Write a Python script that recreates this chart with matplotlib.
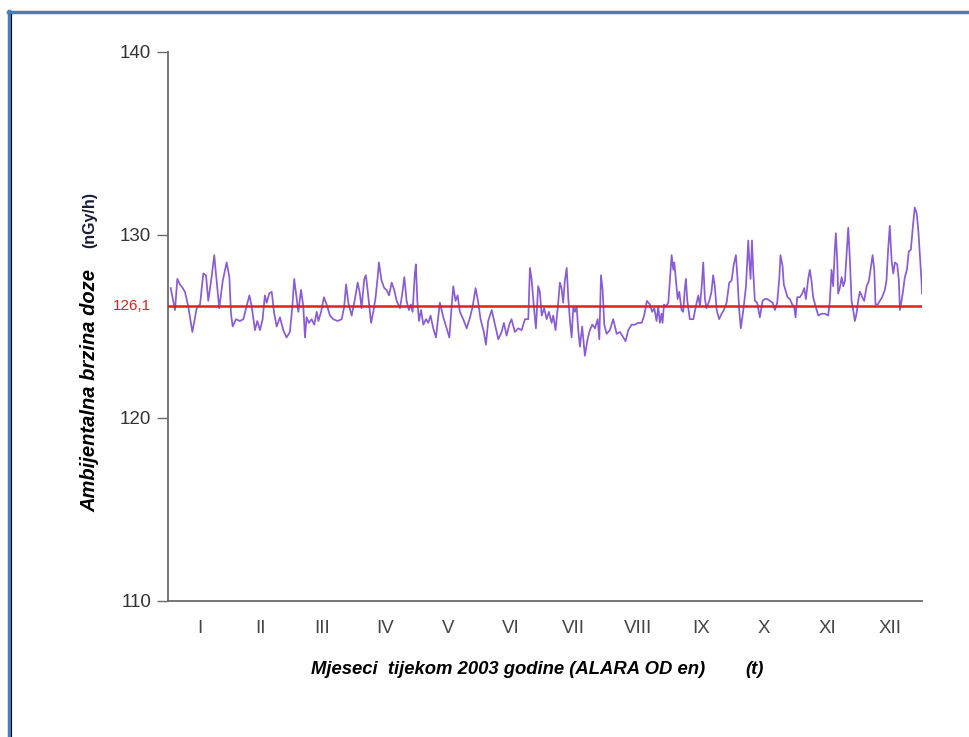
import matplotlib
matplotlib.use("Agg")
import matplotlib.pyplot as plt
from matplotlib.lines import Line2D

# ---- data ----
days = [1.3, 3.4, 4.5, 5.8, 7.1, 8.2, 9.0, 9.8, 11.8, 13.9, 15.5, 17.1, 18.4, 19.5, 21.1, 22.4, 23.2, 24.8,
        26.5, 28.4, 29.7, 30.5, 31.3, 32.9, 34.8, 36.5, 37.8, 39.4, 40.5, 42.1, 43.2, 44.5, 45.8, 46.9, 47.8,
        49.0, 50.2, 51.3, 52.6, 54.2, 55.8, 57.4,
        59.0, 60.2, 61.1, 62.3, 63.1, 64.4, 65.5, 66.3, 67.1, 68.2, 69.5, 70.8, 72.0, 72.8, 74.1, 75.5, 76.8,
        78.4, 80.0, 82.1, 84.1, 85.3, 86.2, 87.3, 88.9, 90.5, 91.8, 92.9, 93.7, 95.0, 95.8, 97.0, 98.3, 99.4,
        100.5, 101.5, 102.1, 103.4, 104.7, 105.8, 107.0, 108.3, 109.5, 110.7, 112.3, 113.4, 114.4, 115.5,
        116.6, 117.6,
        118.4, 119.5, 120.0, 120.7, 121.5, 122.5, 123.6, 124.9, 126.0, 127.1, 128.4, 129.7, 130.8, 131.6,
        133.3, 134.9, 136.2, 137.3, 138.1, 139.2, 140.2, 141.3, 142.9, 144.6, 146.2, 147.5, 148.9, 150.2,
        151.3, 152.9, 153.9, 155.0, 156.7, 158.3, 159.9, 161.5, 162.6, 163.9, 165.2, 166.3, 167.9, 169.6,
        171.2, 172.8, 174.4, 175.2, 176.0, 177.1, 178.1, 179.2,
        180.0, 180.9, 182.1, 183.3, 184.4, 185.7, 186.5, 187.6, 188.9, 189.7, 190.5, 191.3, 192.1, 193.0,
        193.8, 194.6, 195.4, 196.2, 197.0, 197.8, 198.6, 199.4, 200.5, 201.8, 203.1, 204.2, 205.4, 206.7,
        208.0, 208.8, 209.6, 210.4, 211.2, 212.3, 213.9, 215.5, 217.2, 218.8, 220.4, 221.5, 222.8, 224.4,
        226.0, 227.6, 229.3, 230.5, 231.8, 233.3, 234.4, 235.4, 236.5, 237.3, 238.1,
        238.9, 239.4, 240.1, 241.0, 242.2, 243.0, 243.8, 244.6, 245.1, 245.9, 246.7, 247.5, 248.6, 249.4,
        250.2, 250.7, 251.4, 252.6, 254.3, 255.9, 256.7, 257.5, 258.3, 259.1, 259.9, 260.7, 262.0, 263.1,
        263.9, 264.7, 265.6, 266.8, 268.0, 269.1, 270.4, 271.7, 272.8, 273.9, 274.9, 275.7, 276.5, 277.3,
        278.5, 279.8, 280.4, 280.9, 281.4, 282.0, 282.7, 283.3, 284.1, 285.2, 286.5, 287.8, 288.9, 290.1,
        291.4, 292.7, 293.8, 294.9, 295.9, 296.5, 297.5, 298.1, 299.1,
        299.9, 301.0, 302.2, 303.1, 303.8, 304.6, 305.9, 307.0, 308.0, 308.8, 309.9, 310.7, 311.5, 312.3,
        313.5, 314.8, 316.4, 318.0, 319.6, 320.4, 321.2, 322.0, 322.8, 323.3, 324.0, 324.4, 325.2, 326.1,
        326.9, 327.7, 328.5, 329.3, 330.1, 330.9, 331.7, 332.5, 333.3, 334.1, 334.9, 336.1, 337.0, 338.2,
        339.3, 340.3, 341.1, 341.9, 342.5, 343.5, 344.6, 345.7, 347.0, 347.8, 348.6, 349.4, 350.3, 351.1,
        351.9, 353.0, 353.8, 354.3, 355.1, 355.9, 356.7, 357.7, 358.6, 359.6, 360.7, 361.5, 362.4, 363.2,
        364.0, 364.8, 365.0]

dose = [127.1, 125.9, 127.6, 127.3, 127.1, 126.9, 126.5, 126.1, 124.7, 126.0, 126.2, 127.9, 127.8, 126.4,
        127.7, 128.9, 127.9, 126.0, 127.5, 128.5, 127.7, 125.7, 125.0, 125.4, 125.3, 125.4, 126.0, 126.7,
        126.1, 124.8, 125.3, 124.8, 125.4, 126.7, 126.3, 126.8, 126.9, 125.8, 125.0, 125.5, 124.8, 124.4,
        124.7, 126.1, 127.6, 126.5, 125.8, 127.0, 126.1, 124.4, 125.5, 125.2, 125.4, 125.1, 125.8, 125.3,
        125.8, 126.6, 126.2, 125.6, 125.4, 125.3, 125.4, 126.1, 127.3, 126.3, 125.6, 126.5, 127.4, 126.8,
        126.0, 127.6, 127.8, 126.6, 125.2, 125.8, 126.6, 127.7, 128.5, 127.5, 127.1, 127.0, 126.7, 127.4,
        127.0, 126.4, 126.0, 126.8, 127.7, 126.4, 125.9, 126.2,
        125.8, 127.9, 128.4, 126.4, 125.3, 125.9, 125.1, 125.4, 125.2, 125.6, 124.9, 124.4, 125.5, 126.3,
        125.5, 124.9, 124.4, 126.1, 127.2, 126.4, 126.7, 125.8, 125.4, 124.9, 125.5, 126.1, 127.1, 126.3,
        125.4, 124.7, 124.0, 125.3, 125.9, 125.1, 124.3, 124.7, 125.2, 124.5, 125.1, 125.4, 124.7, 124.9,
        124.8, 125.4, 125.4, 128.2, 127.6, 126.1, 124.9, 127.2,
        126.9, 125.6, 126.0, 125.4, 125.8, 125.2, 125.6, 124.8, 126.3, 127.4, 127.1, 126.3, 127.5, 128.2,
        126.5, 125.3, 124.4, 126.1, 125.8, 126.1, 124.8, 123.9, 125.0, 123.4, 124.3, 124.8, 125.1, 124.9,
        125.4, 124.3, 127.8, 127.0, 125.1, 124.6, 124.8, 125.4, 124.6, 124.7, 124.4, 124.2, 124.8, 125.1,
        125.1, 125.2, 125.2, 125.6, 126.4, 126.2, 125.8, 126.0, 125.3, 126.1, 125.2,
        125.7, 125.2, 126.2, 126.1, 126.3, 127.6, 128.9, 128.1, 128.5, 127.5, 126.5, 126.9, 125.9, 125.8,
        127.1, 127.6, 126.4, 125.4, 125.4, 126.3, 126.7, 126.1, 127.1, 128.5, 126.5, 126.0, 126.4, 126.9,
        127.8, 127.2, 125.9, 125.4, 125.7, 125.9, 126.3, 127.4, 127.5, 128.4, 128.9, 127.6, 125.9, 124.9,
        125.9, 127.2, 128.5, 129.7, 128.6, 127.6, 129.7, 128.0, 126.4, 126.3, 125.5, 126.4, 126.5, 126.5,
        126.4, 126.3, 125.9, 126.3, 127.6, 128.9, 128.3, 127.3, 126.9,
        126.6, 126.5, 126.2, 126.1, 125.5, 126.6, 126.6, 126.8, 127.1, 126.5, 127.6, 128.1, 127.5, 126.6,
        126.1, 125.6, 125.7, 125.7, 125.6, 126.4, 128.1, 127.2, 129.2, 130.1, 128.5, 126.8, 127.1, 127.7,
        127.2, 127.5, 129.0, 130.4, 128.6, 126.4, 125.9, 125.3, 125.7, 126.4, 126.9, 126.6, 126.4, 127.2,
        127.5, 128.3, 128.9, 128.1, 126.2, 126.2, 126.4, 126.6, 127.0, 127.5, 129.2, 130.5, 128.6, 127.9,
        128.5, 128.4, 127.5, 125.9, 126.4, 127.0, 127.7, 128.1, 129.1, 129.2, 130.6, 131.5, 131.2, 130.3,
        128.8, 127.4, 126.8]

mean_value = 126.1
mean_label = "126,1"
y_ticks = [110, 120, 130, 140]
month_labels = ["I", "II", "III", "IV", "V", "VI", "VII", "VIII", "IX", "X", "XI", "XII"]
month_lengths = [31, 28, 31, 30, 31, 30, 31, 31, 30, 31, 30, 31]

# month centre positions (day of year)
month_pos = []
start = 0
for n in month_lengths:
    month_pos.append(start + n / 2.0)
    start += n

plt.rcParams['font.family'] = ['Liberation Sans', 'DejaVu Sans']

W, H = 970, 737
fig = plt.figure(figsize=(W / 100, H / 100), dpi=100)
fig.patch.set_facecolor('white')

ax = fig.add_axes([168 / W, 1 - 601 / H, (922 - 168) / W, (601 - 52) / H])
ax.plot(days, dose, color='#8a5bd6', linewidth=1.25, zorder=3)
ax.axhline(mean_value, color='#e3201b', linewidth=1.8, zorder=4)

ax.set_xlim(0, 365)
ax.set_ylim(110, 140)

for s in ['top', 'right']:
    ax.spines[s].set_visible(False)
for s in ['left', 'bottom']:
    ax.spines[s].set_color('#6a6a6a')
    ax.spines[s].set_linewidth(1.3)

ax.set_yticks(y_ticks)
ax.set_yticklabels([str(v) for v in y_ticks])
ax.tick_params(axis='y', length=8, width=1.0, color='#6a6a6a', pad=4,
               labelsize=13.5, labelcolor='#333333')
ax.set_xticks(month_pos)
ax.set_xticklabels(month_labels)
ax.tick_params(axis='x', length=0, pad=14, labelsize=13.5, labelcolor='#444444')

# red mean label on the y axis
ax.text(-0.022, mean_value, mean_label, transform=ax.get_yaxis_transform(),
        color='#e3201b', fontsize=11, ha='right', va='center')

# axis titles
fig.text(90 / W, 1 - 390 / H, "Ambijentalna brzina doze", rotation=90,
         fontsize=14.5, fontweight='bold', fontstyle='italic', color='black',
         ha='center', va='center')
fig.text(90 / W, 1 - 220 / H, "(nGy/h)", rotation=90,
         fontsize=11.5, fontweight='bold', color='#1a1a3a', ha='center', va='center')
fig.text(311 / W, 1 - 670 / H, "Mjeseci  tijekom 2003 godine (ALARA OD en)",
         fontsize=13.3, fontweight='bold', fontstyle='italic', color='black',
         ha='left', va='center')
fig.text(745 / W, 1 - 670 / H, "(t)",
         fontsize=13.3, fontweight='bold', fontstyle='italic', color='black',
         ha='left', va='center')

# frame around the slide area
fig.add_artist(Line2D([9 / W, 9 / W], [0, 1 - 11 / H], transform=fig.transFigure,
                      color='#4a7ebb', linewidth=2.5))
fig.add_artist(Line2D([8 / W, 1], [1 - 12 / H, 1 - 12 / H], transform=fig.transFigure,
                      color='#4a7ebb', linewidth=2.5))
fig.add_artist(Line2D([11.5 / W, 11.5 / W], [0, 1 - 14 / H], transform=fig.transFigure,
                      color='black', linewidth=0.8))

fig.savefig("out.png", dpi=100, facecolor='white')
